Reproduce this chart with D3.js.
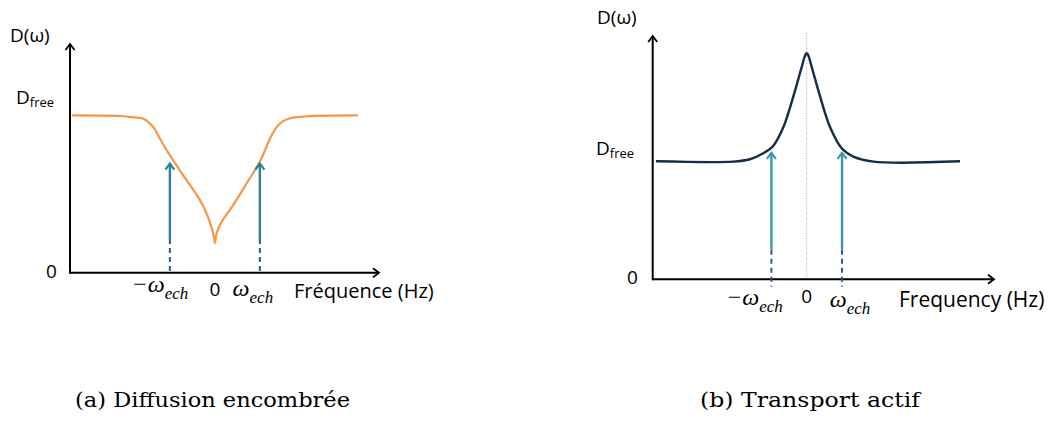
<!DOCTYPE html>
<html>
<head>
<meta charset="utf-8">
<script src="https://cdn.jsdelivr.net/npm/d3@7"></script>
<style>
  body { margin: 0; background: #fff; }
  svg { display: block; }
  .lbl { font-family: "Open Sans", "Liberation Sans", sans-serif; fill: #000; }
  .math { font-family: "Liberation Serif", "DejaVu Serif", serif; font-style: italic; fill: #000; }
  .cap { font-family: "DejaVu Serif", "Liberation Serif", serif; fill: #000; }
</style>
</head>
<body>
<div id="chart"></div>
<script>
// (a) crowded diffusion, D(w)/Dfree vs w/w_ech
const crowdX = [-3.18, -2.11, -1.78, -1.59, -1.37, -1.22, -1.07, -0.78, -0.33, -0.16, -0.07, -0.016, 0,
                0.038, 0.149, 0.407, 0.704, 1.016, 1.26, 1.44, 1.63, 2.04, 3.18];
const crowdY = [1.0, 0.996, 0.987, 0.979, 0.926, 0.852, 0.778, 0.651, 0.461, 0.36, 0.283, 0.22, 0.188,
                0.25, 0.323, 0.429, 0.567, 0.715, 0.873, 0.947, 0.979, 0.994, 1.0];

// (b) active transport
const activeX = [-4.27, -2.08, -1.61, -1.23, -0.95, -0.66, -0.38, -0.14, -0.04, 0, 0.04, 0.14,
                 0.38, 0.66, 0.99, 1.32, 1.89, 4.34];
const activeY = [1.0, 0.997, 1.017, 1.068, 1.13, 1.29, 1.548, 1.8, 1.9, 1.915, 1.9, 1.8,
                 1.548, 1.29, 1.11, 1.04, 0.997, 1.0];

const echTicks = [-1, 1];
const freqLabels = ['Fréquence (Hz)', 'Frequency (Hz)'];
const captions = ['(a) Diffusion encombrée', '(b) Transport actif'];

const width = 1057, height = 421;

const svg = d3.select('#chart').append('svg')
  .attr('width', width)
  .attr('height', height);

let defs = svg.append('defs');
function addMarker(id, color, w) {
  defs.append('marker')
    .attr('id', id)
    .attr('viewBox', '-10 -10 20 20')
    .attr('markerWidth', 20).attr('markerHeight', 20)
    .attr('markerUnits', 'userSpaceOnUse')
    .attr('orient', 'auto')
    .append('path')
    .attr('d', 'M-6,-4.5 L0,0 L-6,4.5')
    .attr('fill', 'none')
    .attr('stroke', color)
    .attr('stroke-width', w)
    .attr('stroke-linejoin', 'miter');
}
addMarker('axisHead', '#000', 1.8);
addMarker('tealHeadA', '#2e7f98', 2.2);
addMarker('tealHeadB', '#3f97ad', 2.2);

function drawPanel(p) {
  let x = d3.scaleLinear().domain(p.xDomain).range(p.xRange);
  let y = d3.scaleLinear().domain(p.yDomain).range(p.yRange);
  let g = svg.append('g');

  // center guide (panel b only)
  if (p.guide) {
    g.append('line')
      .attr('x1', x(0)).attr('x2', x(0))
      .attr('y1', p.guideTop).attr('y2', y(0))
      .attr('stroke', '#999').attr('stroke-width', 0.8)
      .attr('stroke-dasharray', '1,1.5');
  }

  // axes
  g.append('line')
    .attr('x1', x(p.xDomain[0])).attr('x2', x(p.xDomain[1]) - 1)
    .attr('y1', y(0)).attr('y2', y(0))
    .attr('stroke', '#000').attr('stroke-width', 2)
    .attr('marker-end', 'url(#axisHead)');
  g.append('line')
    .attr('x1', x(p.xDomain[0])).attr('x2', x(p.xDomain[0]))
    .attr('y1', y(0) + 1).attr('y2', y(p.yDomain[1]) + 1)
    .attr('stroke', '#000').attr('stroke-width', 2)
    .attr('marker-end', 'url(#axisHead)');

  // curve
  let pts = p.xs.map((v, i) => [v, p.ys[i]]);
  g.append('path')
    .datum(pts)
    .attr('fill', 'none')
    .attr('stroke', p.color)
    .attr('stroke-width', p.lineWidth)
    .attr('stroke-linejoin', 'round')
    .attr('d', d3.line().x(d => x(d[0])).y(d => y(d[1])).curve(d3.curveCatmullRom.alpha(0.5)));

  // w_ech arrows: solid teal on top, dashed blue below
  echTicks.forEach(t => {
    g.append('line')
      .attr('x1', x(t)).attr('x2', x(t))
      .attr('y1', y(p.arrowBase)).attr('y2', y(p.arrowTip) + 1)
      .attr('stroke', p.arrowColor).attr('stroke-width', 2.4)
      .attr('marker-end', `url(#${p.arrowMarker})`);
    g.append('line')
      .attr('x1', x(t)).attr('x2', x(t))
      .attr('y1', y(p.arrowBase)).attr('y2', y(p.dashEnd))
      .attr('stroke', '#2f5597').attr('stroke-width', 2)
      .attr('stroke-dasharray', '5,4');
  });

  // y labels
  g.append('text').attr('class', 'lbl')
    .attr('x', p.dwX).attr('y', p.dwY)
    .style('font-size', '19px')
    .text('D(ω)');
  let df = g.append('text').attr('class', 'lbl')
    .attr('x', p.dfX).attr('y', p.dfY)
    .style('font-size', '19px');
  df.append('tspan').text('D');
  df.append('tspan').text('free').style('font-size', '13px').attr('dy', 3);
  g.append('text').attr('class', 'lbl')
    .attr('x', p.zeroX).attr('y', y(0) + 5)
    .style('font-size', '19px')
    .text('0');

  // x labels
  g.append('text').attr('class', 'lbl')
    .attr('x', x(0)).attr('y', p.zeroBase)
    .attr('text-anchor', 'middle')
    .style('font-size', '19px')
    .text('0');

  echTicks.forEach((t, i) => {
    let m = g.append('text').attr('class', 'math')
      .attr('x', x(t) + p.omegaDx[i])
      .attr('y', p.omegaBase[i])
      .attr('text-anchor', 'middle')
      .style('font-size', '24px');
    m.append('tspan').text(t < 0 ? '−ω' : 'ω');
    m.append('tspan').text('ech').style('font-size', '17px').attr('dy', 7);
  });

  g.append('text').attr('class', 'lbl')
    .attr('x', p.freqX).attr('y', p.freqBase)
    .style('font-size', p.freqSize)
    .text(p.freqLabel);

  g.append('text').attr('class', 'cap')
    .attr('x', p.capX).attr('y', 407)
    .style('font-size', '20.5px')
    .attr('textLength', p.capLen)
    .attr('lengthAdjust', 'spacingAndGlyphs')
    .text(p.caption);
}

drawPanel({
  xs: crowdX, ys: crowdY,
  xDomain: [-3.22, 3.67], xRange: [70, 380],
  yDomain: [0, 1.46], yRange: [272.7, 43],
  color: '#f79646', lineWidth: 2.2,
  arrowColor: '#2e7f98', arrowMarker: 'tealHeadA',
  arrowTip: 0.70, arrowBase: 0.214, dashEnd: 0,
  dwX: 10, dwY: 42, dfX: 16, dfY: 104, zeroX: 46,
  zeroBase: 296, omegaDx: [-10, -7], omegaBase: [292, 296],
  freqX: 294, freqBase: 298, freqSize: '20px',
  freqLabel: freqLabels[0], capX: 75, capLen: 275, caption: captions[0]
});

drawPanel({
  xs: activeX, ys: activeY,
  xDomain: [-4.36, 5.33], xRange: [652.7, 995],
  yDomain: [0, 2.07], yRange: [279.3, 35],
  color: '#172c46', lineWidth: 2.4,
  arrowColor: '#3f97ad', arrowMarker: 'tealHeadB',
  arrowTip: 1.08, arrowBase: 0.25, dashEnd: -0.063,
  guide: true, guideTop: 33,
  dwX: 597, dwY: 24, dfX: 596, dfY: 155, zeroX: 627,
  zeroBase: 303, omegaDx: [-17, 8], omegaBase: [305, 307],
  freqX: 899, freqBase: 307, freqSize: '21px',
  freqLabel: freqLabels[1], capX: 700, capLen: 220, caption: captions[1]
});
</script>
</body>
</html>
